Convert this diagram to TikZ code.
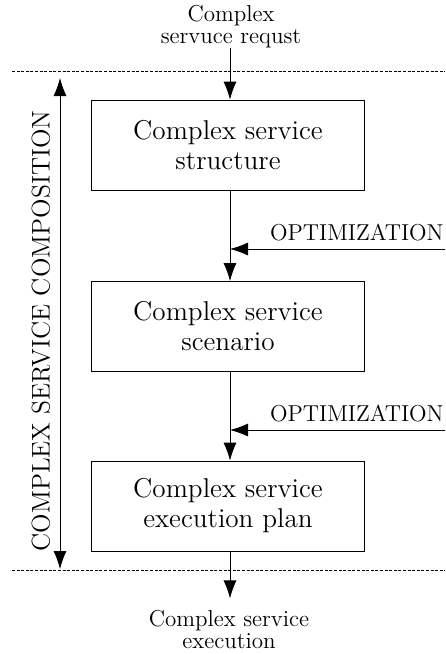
\documentclass[tikz,border=0pt]{standalone}
\usepackage{tikz}
\usetikzlibrary{arrows.meta}

\begin{document}
\begin{tikzpicture}[x=0.5pt,y=-0.5pt,>={Latex[length=9pt,width=6.5pt]}]
\tikzset{block/.style={draw,thin,align=center,font=\fontsize{13.6}{15}\selectfont,minimum width=136.5pt,minimum height=45pt,inner sep=0pt}}
\tikzset{txt/.style={align=center,inner sep=0pt,font=\fontsize{11.5}{11}\selectfont}}
\tikzset{sep/.style={thin,dash pattern=on 1.5pt off 0.8pt}}
\useasboundingbox (0,0) rectangle (445,654);
\node[txt] at (231,26.5) (req) {Complex\\servuce requst};
\node[block] at (228,145) (struct) {Complex service\\structure};
\node[block] at (228,326.5) (scen) {Complex service\\scenario};
\node[block] at (228,506) (plan) {Complex service\\execution plan};
\node[txt] at (229,630) (exec) {Complex service\\execution};
\coordinate (o1) at (445,249);
\coordinate (o2) at (445,430);
\node[txt,anchor=base east] at (444,240) (opt1) {OPTIMIZATION};
\node[txt,anchor=base east] at (444,421) (opt2) {OPTIMIZATION};
\draw[->] (req.south -| 230,0) -- (230,0 |- struct.north);
\draw[->] (struct.south -| 230,0) -- (230,0 |- scen.north);
\draw[->] (scen.south -| 230,0) -- (230,0 |- plan.north);
\draw[->] (plan.south -| 230,0) -- ([yshift=6pt]exec.north -| 230,0);
\draw[->] (o1) -- (230,0 |- o1);
\draw[->] (o2) -- (230,0 |- o2);
\draw[sep] (12,71) -- (445,71);
\draw[sep] (12,570) -- (445,570);
\coordinate (top) at (60,78);
\coordinate (bot) at (60,569);
\draw[<->] (top) -- (bot);
\node[rotate=90,font=\fontsize{12.8}{15}\selectfont,inner sep=0pt] at (41,331) (comp) {COMPLEX SERVICE COMPOSITION};
\end{tikzpicture}
\end{document}
